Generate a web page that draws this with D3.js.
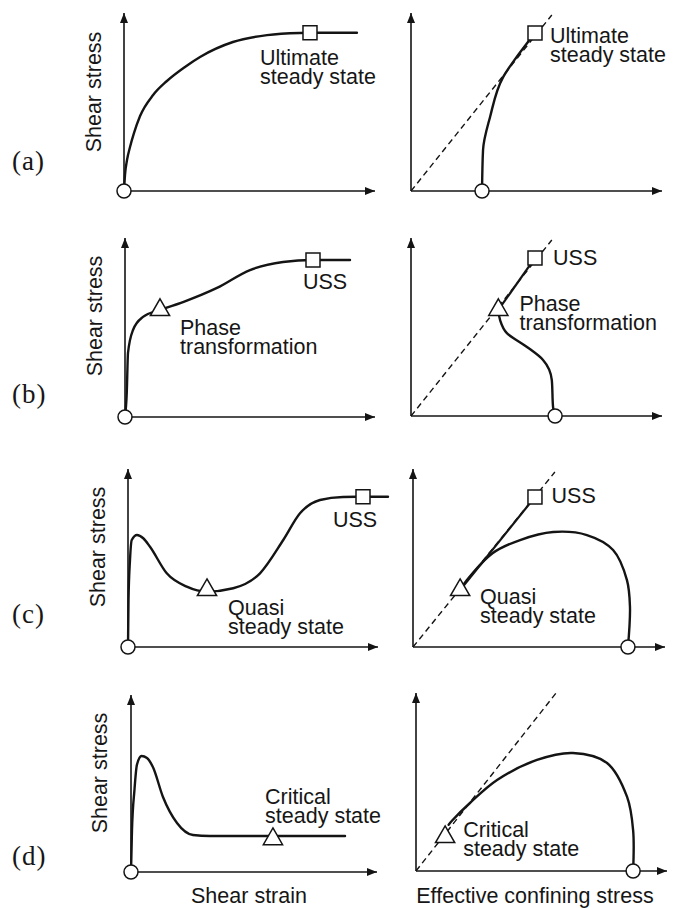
<!DOCTYPE html>
<html>
<head>
<meta charset="utf-8">
<script src="https://cdn.jsdelivr.net/npm/d3@7"></script>
<style>
  html, body { margin: 0; padding: 0; background: #fff; }
  svg { display: block; }
  .lbl { font-family: "Liberation Sans", Arial, sans-serif; font-size: 21.5px; fill: #161616; }
  .tag { font-family: "Liberation Serif", "Times New Roman", serif; font-size: 27px; fill: #161616; letter-spacing: 1px; }
</style>
</head>
<body>
<svg id="chart" width="674" height="908"></svg>
<script>
// ---- Schematic values (both axes run 0..100 in arbitrary units) ----
const rowTags = ["(a)", "(b)", "(c)", "(d)"];
const xTitles = ["Shear strain", "Effective confining stress"];
const yTitle = "Shear stress";

// Stress–strain curves (shear strain, shear stress)
const strainCurveA = [[0,0],[0.4,9],[1.2,17.4],[2.4,24.7],[4,32.6],[6.4,42.1],[11.6,53.9],[17.1,61.8],[24.3,69.7],[30.3,75.3],[43.4,83.7],[57,87.6],[70.1,88.8],[74.1,88.9],[92.8,88.9]];
const strainCurveB = [[0,0],[0.7,13.4],[1.2,35.8],[3.2,48.6],[7.2,55.9],[14,59.8],[23.2,64.2],[36.8,72.1],[50,82.1],[63.2,86.6],[75.2,87.7],[90,87.7]];
const strainCurveC = [[0,0],[0.2,26.4],[0.8,48.9],[1.5,60.1],[3.6,62.9],[6.1,61.1],[8.8,56.3],[15.5,41.4],[23.5,33.9],[31.5,31.1],[42.1,33],[52.8,41.4],[62.1,60.1],[68.8,75.1],[76.8,82.6],[86,84.3],[94,84.4],[104,84.4]];
const strainCurveD = [[0,0],[0.4,23.7],[1.4,46.3],[2.4,60.5],[4.3,65.5],[6.5,64.4],[8.9,59.3],[13,42.4],[18.7,27.7],[25.2,20.9],[32.1,20.3],[57.7,20.3],[87,20.3]];

// Effective stress paths (effective confining stress, shear stress)
const pathCurveA = [[28.3,0],[28.7,23],[31.5,41.6],[36.7,64],[42.1,75.3],[46.6,83.7],[49.4,88.8]];
const pathCurveB = [[57.4,0],[56.6,5],[56.1,20.2],[52.6,31.5],[46.2,38.8],[38.2,46.6],[35.5,53.9],[34.8,59.6]];
const pathCurveC = [[85.3,0],[86.1,22.5],[84.9,37.6],[79.4,54.5],[69,62.9],[55.6,64.6],[42.5,60.1],[31.7,52.8],[21.4,37.6],[18.7,32]];
const pathCurveD = [[86.5,0],[86.5,23],[84.1,41.6],[76.1,60.7],[62.5,66.3],[48.2,62.4],[32.3,51.1],[21.5,38.2],[14.5,28.5],[13,26]];

// Straight legs along the failure line (phase transformation / QSS -> USS)
const pathLegB = [[34.8,59.6],[49.4,88.8]];
const pathLegC = [[18.7,32],[48.4,84.3]];

// Steady-state (failure) line end points
const failureLineA = [[0,0],[56.1,98.9]];
const failureLineB = [[0,0],[56.1,98.9]];
const failureLineC = [[0,0],[56.3,98.3]];
const failureLineD = [[0,0],[55.8,100]];

// State markers: initial (circle), phase/quasi/critical (triangle), ultimate (square)
const initialStrain = [[0,0],[0,0],[0,0],[0,0]];
const initialPath = [[28.3,0],[57.4,0],[85.3,0],[86.5,0]];
const triangleStrain = [null,[14,59.8],[31.6,32],[57.7,18.6]];
const trianglePath = [null,[34.8,59.6],[18.7,32],[11.6,19.1]];
const squareStrain = [[74.1,88.9],[75.2,87.7],[94,84.4],null];
const squarePath = [[49.4,88.8],[49.4,88.8],[48.4,84.3],null];

// Annotations: [x, y of first baseline, lines]
const notesStrain = [
  [[54.2,70.8,["Ultimate","steady state"]]],
  [[71.2,71.5,["USS"]],[22,45.8,["Phase","transformation"]]],
  [[82,67.2,["USS"]],[40,18,["Quasi","steady state"]]],
  [[54.5,38.4,["Critical","steady state"]]]
];
const notesPath = [
  [[55.4,83.3,["Ultimate","steady state"]]],
  [[56.6,84.8,["USS"]],[43.2,59.2,["Phase","transformation"]]],
  [[55,80.7,["USS"]],[26.6,24.2,["Quasi","steady state"]]],
  [[18.8,19.3,["Critical","steady state"]]]
];

const strainCurves = [strainCurveA, strainCurveB, strainCurveC, strainCurveD];
const pathCurves = [pathCurveA, pathCurveB, pathCurveC, pathCurveD];
const pathLegs = [null, pathLegB, pathLegC, null];
const failureLines = [failureLineA, failureLineB, failureLineC, failureLineD];

// Interpolation per curve: strain curves advance monotonically in strain,
// the first two stress paths climb monotonically in shear stress.
const strainInterp = [d3.curveMonotoneX, d3.curveMonotoneX, d3.curveMonotoneX, d3.curveMonotoneX];
const pathInterp = [d3.curveMonotoneY, d3.curveMonotoneY, d3.curveCatmullRom.alpha(0.5), d3.curveCatmullRom.alpha(0.5)];

// ---- Layout: axis origin, x-arrow tip, y-arrow tip of every panel ----
const framesLeft = [
  {ox:124, oy:191, xe:375, yt:13},
  {ox:125, oy:417, xe:375, yt:238},
  {ox:128, oy:647, xe:378, yt:469},
  {ox:131, oy:872, xe:377, yt:695}
];
const framesRight = [
  {ox:411, oy:191, xe:662, yt:13},
  {ox:411, oy:416, xe:662, yt:238},
  {ox:413, oy:647, xe:665, yt:469},
  {ox:416, oy:871, xe:667, yt:693}
];
const tagPos = [[12,170],[12,403],[12,623],[12,865]];
const yTitlePos = [[101,92],[102,316],[105,547],[107,773]];
const lineGap = 19;
const ink = "#141414";

const svg = d3.select("#chart");
svg.append("rect").attr("width", 674).attr("height", 908).attr("fill", "#fff");

svg.append("defs").append("marker")
  .attr("id", "arrow")
  .attr("viewBox", "0 0 10 8")
  .attr("refX", 10).attr("refY", 4)
  .attr("markerWidth", 10).attr("markerHeight", 8)
  .attr("markerUnits", "userSpaceOnUse")
  .attr("orient", "auto")
  .append("path").attr("d", "M0,0 L10,4 L0,8 Z").attr("fill", ink);

const circleSym = d3.symbol(d3.symbolCircle, Math.PI * 7 * 7);
const squareSym = d3.symbol(d3.symbolSquare, 14 * 14);
const triangleSym = d3.symbol(d3.symbolTriangle, 160);

function drawPanel(frame, curve, interp, opts) {
  const x = d3.scaleLinear().domain([0, 100]).range([frame.ox, frame.xe]);
  const y = d3.scaleLinear().domain([0, 100]).range([frame.oy, frame.yt]);
  const g = svg.append("g");
  const line = d3.line().x(d => x(d[0])).y(d => y(d[1]));
  const smooth = d3.line().x(d => x(d[0])).y(d => y(d[1])).curve(interp);

  if (opts.failure) {
    g.append("path").attr("d", line(opts.failure))
      .attr("fill", "none").attr("stroke", ink).attr("stroke-width", 1.4)
      .attr("stroke-dasharray", "6,4");
  }
  // axes with arrowheads
  g.append("path").attr("d", line([[0,0],[100,0]]))
    .attr("stroke", ink).attr("stroke-width", 1.6).attr("fill", "none")
    .attr("marker-end", "url(#arrow)");
  g.append("path").attr("d", line([[0,0],[0,100]]))
    .attr("stroke", ink).attr("stroke-width", 1.6).attr("fill", "none")
    .attr("marker-end", "url(#arrow)");

  g.append("path").attr("d", smooth(curve))
    .attr("fill", "none").attr("stroke", ink).attr("stroke-width", 2.4)
    .attr("stroke-linejoin", "round").attr("stroke-linecap", "round");
  if (opts.leg) {
    g.append("path").attr("d", line(opts.leg))
      .attr("fill", "none").attr("stroke", ink).attr("stroke-width", 2.2);
  }

  const marks = [[opts.circle, circleSym], [opts.triangle, triangleSym], [opts.square, squareSym]];
  marks.forEach(([p, sym]) => {
    if (!p) return;
    g.append("path").attr("d", sym())
      .attr("transform", `translate(${x(p[0])},${y(p[1])})`)
      .attr("fill", "#fff").attr("stroke", ink).attr("stroke-width", 1.5);
  });

  opts.notes.forEach(([nx, ny, lines]) => {
    const t = g.append("text").attr("class", "lbl")
      .attr("x", x(nx)).attr("y", y(ny));
    lines.forEach((s, i) => {
      t.append("tspan").attr("x", x(nx)).attr("dy", i === 0 ? 0 : lineGap).text(s);
    });
  });
}

for (let i = 0; i < 4; i++) {
  drawPanel(framesLeft[i], strainCurves[i], strainInterp[i], {
    circle: initialStrain[i], triangle: triangleStrain[i], square: squareStrain[i],
    notes: notesStrain[i]
  });
  drawPanel(framesRight[i], pathCurves[i], pathInterp[i], {
    failure: failureLines[i], leg: pathLegs[i],
    circle: initialPath[i], triangle: trianglePath[i], square: squarePath[i],
    notes: notesPath[i]
  });
  svg.append("text").attr("class", "tag")
    .attr("x", tagPos[i][0]).attr("y", tagPos[i][1]).text(rowTags[i]);
  svg.append("text").attr("class", "lbl")
    .attr("text-anchor", "middle")
    .attr("transform", `translate(${yTitlePos[i][0]},${yTitlePos[i][1]}) rotate(-90)`)
    .text(yTitle);
}

svg.append("text").attr("class", "lbl").attr("text-anchor", "middle")
  .attr("x", 249).attr("y", 903).text(xTitles[0]);
svg.append("text").attr("class", "lbl").attr("text-anchor", "middle")
  .attr("x", 535).attr("y", 903).text(xTitles[1]);
</script>
</body>
</html>
